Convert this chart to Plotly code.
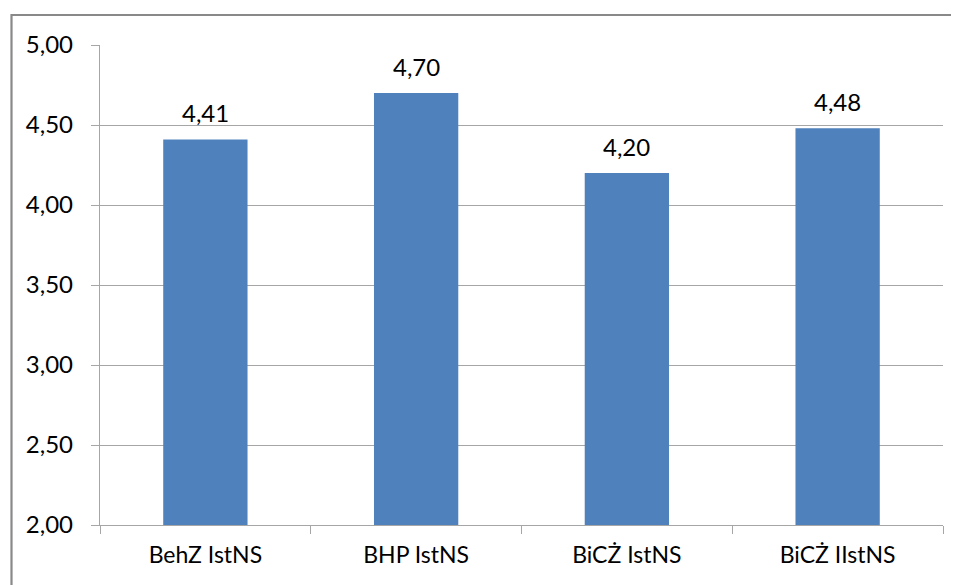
import plotly.graph_objects as go

categories = ["BehZ IstNS", "BHP IstNS", "BiCŻ IstNS", "BiCŻ IIstNS"]
values = [4.41, 4.70, 4.20, 4.48]
labels = ["4,41", "4,70", "4,20", "4,48"]
y_tickvals = [2.0, 2.5, 3.0, 3.5, 4.0, 4.5, 5.0]
y_ticktext = ["2,00", "2,50", "3,00", "3,50", "4,00", "4,50", "5,00"]

FONT = "Lato, Calibri, Carlito, sans-serif"
OFF = 8  # default page body margin
W, H = 959 - OFF, 585 - OFF
ml, mr, mt, mb = 100 - OFF, 16, 45 - OFF, 60
pw, ph = W - ml - mr, H - mt - mb

fig = go.Figure()
fig.add_trace(go.Bar(
    x=categories, y=values,
    marker=dict(color="#4F81BD", line=dict(width=0)),
    width=0.40,
    hoverinfo="skip",
))

for c, v, t in zip(categories, values, labels):
    fig.add_annotation(x=c, y=v, text=t, showarrow=False, yanchor="bottom",
                       yshift=10, font=dict(family=FONT, size=24, color="#000000"))

# outer chart-area border (extends past the picture on right and bottom)
bx = 11.5 - OFF
by = 15 - OFF
fig.add_shape(type="rect", xref="paper", yref="paper",
              x0=(bx - ml) / pw, x1=(W + 20 - ml) / pw,
              y0=-(mb + 20) / ph, y1=1 + (mt - by) / ph,
              line=dict(color="#898989", width=2.2), fillcolor="rgba(0,0,0,0)", layer="above")

fig.update_layout(
    width=W, height=H,
    margin=dict(l=ml, r=mr, t=mt, b=mb),
    paper_bgcolor="white", plot_bgcolor="white",
    showlegend=False,
    font=dict(family=FONT, size=24, color="#000000"),
    xaxis=dict(
        type="category", showgrid=False,
        showline=True, linecolor="#A6A6A6", linewidth=1.3,
        ticks="outside", ticklen=8, tickcolor="#A6A6A6", tickson="boundaries",
        tickfont=dict(family=FONT, size=23, color="#000000"),
        ticklabelstandoff=9,
        fixedrange=True,
    ),
    yaxis=dict(
        range=[2.0, 5.0], tickvals=y_tickvals, ticktext=y_ticktext,
        showgrid=True, gridcolor="#A6A6A6", gridwidth=1.3,
        showline=True, linecolor="#A6A6A6", linewidth=1.3,
        ticks="outside", ticklen=8, tickcolor="#A6A6A6",
        tickfont=dict(family=FONT, size=24, color="#000000"),
        ticklabelstandoff=13,
        zeroline=False, fixedrange=True,
    ),
)

fig.write_html("out.html")
